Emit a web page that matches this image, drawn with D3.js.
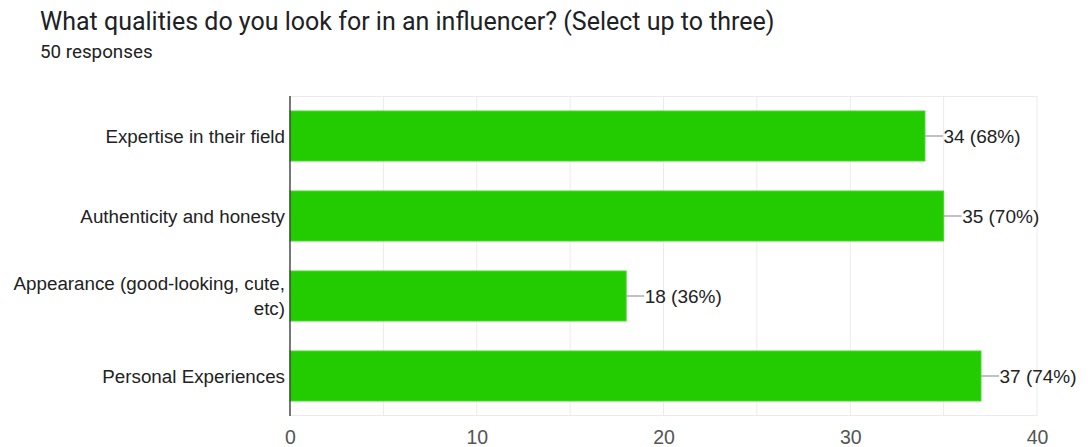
<!DOCTYPE html>
<html><head><meta charset="utf-8">
<script src="https://cdn.jsdelivr.net/npm/d3@7"></script>
<style>body{margin:0;background:#fff;} svg{display:block;}</style>
</head><body>
<svg id="c" width="1088" height="447"></svg>
<script>
const categories = [["Expertise in their field"], ["Authenticity and honesty"], ["Appearance (good-looking, cute,", "etc)"], ["Personal Experiences"]];
const counts = [34, 35, 18, 37];
const percents = [68, 70, 36, 74];
const tickValues = [0, 10, 20, 30, 40];
const gridValues = [0, 5, 10, 15, 20, 25, 30, 35, 40];
const title = "What qualities do you look for in an influencer? (Select up to three)";
const subtitle = "50 responses";

(function () {
const svg = d3.select("#c");
const pL = 290, pR = 1037, pT = 96, pB = 416;
const x = d3.scaleLinear().domain([0, 40]).range([pL, pR]);
const y = d3.scaleBand().domain(d3.range(categories.length)).range([pT, pB]).paddingInner(0.375).paddingOuter(0.1875);
const sans = "Liberation Sans, Arial, sans-serif";

svg.append("text").attr("x", 40).attr("y", 30).attr("font-family", "Roboto").attr("font-size", 25).attr("fill", "#202124").text(title);
svg.append("text").attr("x", 40).attr("y", 58).attr("font-family", "Roboto").attr("font-size", 18.8).attr("fill", "#202124").text(subtitle);

// gridlines
svg.append("g").selectAll("line").data(gridValues).join("line")
  .attr("x1", d => x(d)).attr("x2", d => x(d)).attr("y1", pT).attr("y2", pB)
  .attr("stroke", "#ebebeb").attr("stroke-width", 1);
svg.append("line").attr("x1", pL).attr("x2", pR).attr("y1", pT + 0.5).attr("y2", pT + 0.5).attr("stroke", "#ebebeb");
svg.append("line").attr("x1", pL).attr("x2", pR).attr("y1", pB - 0.5).attr("y2", pB - 0.5).attr("stroke", "#ebebeb");

// bars
svg.append("g").selectAll("rect").data(counts).join("rect")
  .attr("x", x(0)).attr("y", (d, i) => y(i)).attr("width", d => x(d) - x(0)).attr("height", y.bandwidth())
  .attr("fill", "#22cc00").attr("stroke", "#4cd633").attr("stroke-width", 1);

// leader lines and labels
const lab = svg.append("g");
counts.forEach((d, i) => {
  const cy = y(i) + y.bandwidth() / 2;
  lab.append("line").attr("x1", x(d)).attr("x2", x(d) + 18).attr("y1", cy).attr("y2", cy).attr("stroke", "#999").attr("stroke-width", 1.2);
  lab.append("text").attr("x", x(d) + 18.5).attr("y", cy).attr("dy", "0.36em").attr("font-family", sans).attr("font-size", 19).attr("fill", "#222")
    .text(`${d} (${percents[i]}%)`);
});

// category labels
const cl = svg.append("g");
categories.forEach((lines, i) => {
  const cy = y(i) + y.bandwidth() / 2;
  const t = cl.append("text").attr("text-anchor", "end").attr("font-family", sans).attr("font-size", 18.8).attr("fill", "#222");
  const n = lines.length, lh = 25;
  lines.forEach((s, k) => {
    t.append("tspan").attr("x", pL - 5).attr("y", cy + (k - (n - 1) / 2) * lh).attr("dy", "0.36em").text(s);
  });
});

// axis line
svg.append("line").attr("x1", pL).attr("x2", pL).attr("y1", pT).attr("y2", pB).attr("stroke", "#333").attr("stroke-width", 1.3);

// x tick labels
const xAxis = d3.axisBottom(x).tickValues(tickValues).tickSize(0).tickPadding(0);
const ga = svg.append("g").attr("transform", `translate(0,${pB})`).call(xAxis);
ga.select(".domain").remove();
ga.selectAll("text").attr("font-family", sans).attr("font-size", 19.5).attr("fill", "#555").attr("dy", null).attr("y", 28);
})();
</script>
</body></html>
